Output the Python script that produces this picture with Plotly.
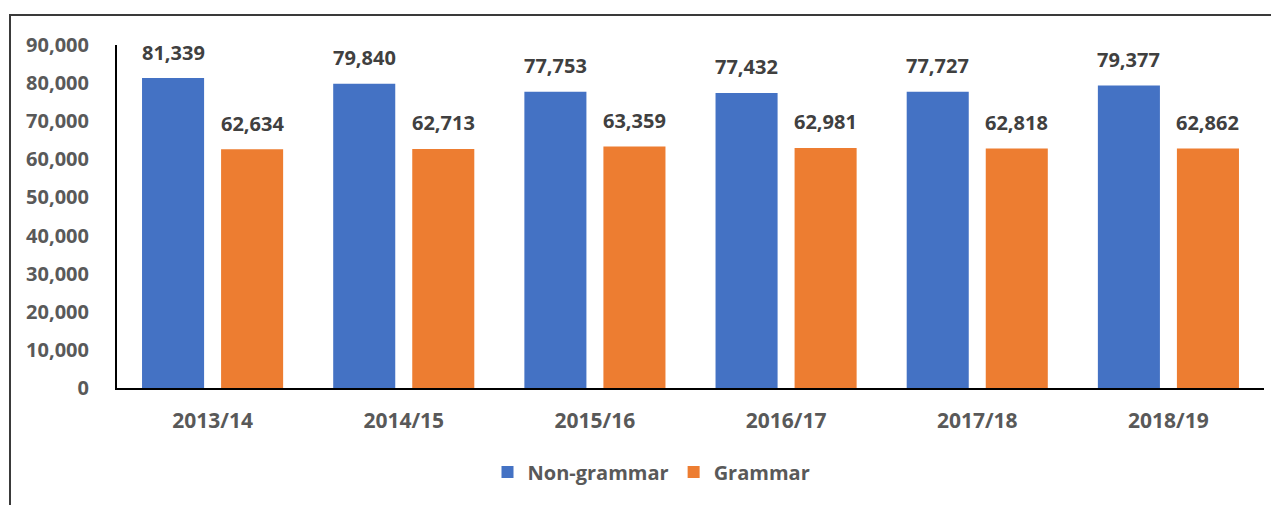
"""Pupil numbers by school type, grouped bar chart."""

import plotly.graph_objects as go

YEARS = ["2013/14", "2014/15", "2015/16", "2016/17", "2017/18", "2018/19"]
NON_GRAMMAR = [81339, 79840, 77753, 77432, 77727, 79377]
GRAMMAR = [62634, 62713, 63359, 62981, 62818, 62862]
Y_TICKS = [0, 10000, 20000, 30000, 40000, 50000, 60000, 70000, 80000, 90000]

BLUE = "#4472C4"
ORANGE = "#ED7D31"
AXIS_TEXT = "#595959"
LABEL_TEXT = "#404040"
FONT = "Open Sans"

# page body has an 8px margin, so the figure is sized to end at the window edge
PAD = 8
W, H = 1279 - PAD, 505 - PAD
M_L, M_R, M_T, M_B = 117 - PAD, 15, 45 - PAD, 117
plot_w = W - M_L - M_R
plot_h = H - M_T - M_B

BARGAP = 0.173
GROUPGAP = 0.215
slot_px = plot_w / len(YEARS) * (1 - BARGAP) / 2

fig = go.Figure()

fig.add_trace(go.Bar(
    x=YEARS,
    y=NON_GRAMMAR,
    name="Non-grammar",
    marker=dict(color=BLUE, line=dict(width=0)),
))

fig.add_trace(go.Bar(
    x=YEARS,
    y=GRAMMAR,
    name="Grammar",
    marker=dict(color=ORANGE, line=dict(width=0)),
))

# value labels above bars
for values, side in ((NON_GRAMMAR, -1), (GRAMMAR, 1)):
    for year, v in zip(YEARS, values):
        fig.add_annotation(
            x=year, y=v,
            text=f"<b>{v:,}</b>",
            showarrow=False,
            xshift=side * slot_px / 2,
            yshift=26,
            font=dict(color=LABEL_TEXT, size=20, family=FONT),
        )

# outer frame (left and top edges visible, rest cropped)
fig.add_shape(
    type="rect",
    xref="paper", yref="paper",
    x0=(10 - PAD - M_L) / plot_w, x1=1.2,
    y0=-0.6, y1=(H - M_B - (15 - PAD)) / plot_h,
    line=dict(color="#3a3a3a", width=2),
    fillcolor="rgba(0,0,0,0)",
    layer="below",
)

fig.update_layout(
    width=W,
    height=H,
    barmode="group",
    bargap=BARGAP,
    bargroupgap=GROUPGAP,
    margin=dict(l=M_L, r=M_R, t=M_T, b=M_B),
    paper_bgcolor="white",
    plot_bgcolor="white",
    font=dict(family=FONT, color=AXIS_TEXT, size=20),
    xaxis=dict(
        showgrid=False,
        showline=True,
        linecolor="black",
        linewidth=2,
        ticks="",
        tickfont=dict(size=21, color=AXIS_TEXT, family=FONT, weight="bold"),
        ticklabelstandoff=13,
    ),
    yaxis=dict(
        range=[0, 90000],
        tickvals=Y_TICKS,
        tickformat=",",
        showgrid=False,
        zeroline=False,
        showline=True,
        linecolor="black",
        linewidth=2,
        ticks="",
        tickfont=dict(size=20, color=AXIS_TEXT, family=FONT, weight="bold"),
        ticklabelstandoff=22,
    ),
    legend=dict(
        orientation="h",
        x=0.466,
        xanchor="center",
        y=(H - M_B - (472 - PAD)) / plot_h,
        yanchor="middle",
        font=dict(size=20, color=AXIS_TEXT, family=FONT, weight="bold"),
        itemwidth=30,
        traceorder="normal",
    ),
)

fig.write_html("out.html")
